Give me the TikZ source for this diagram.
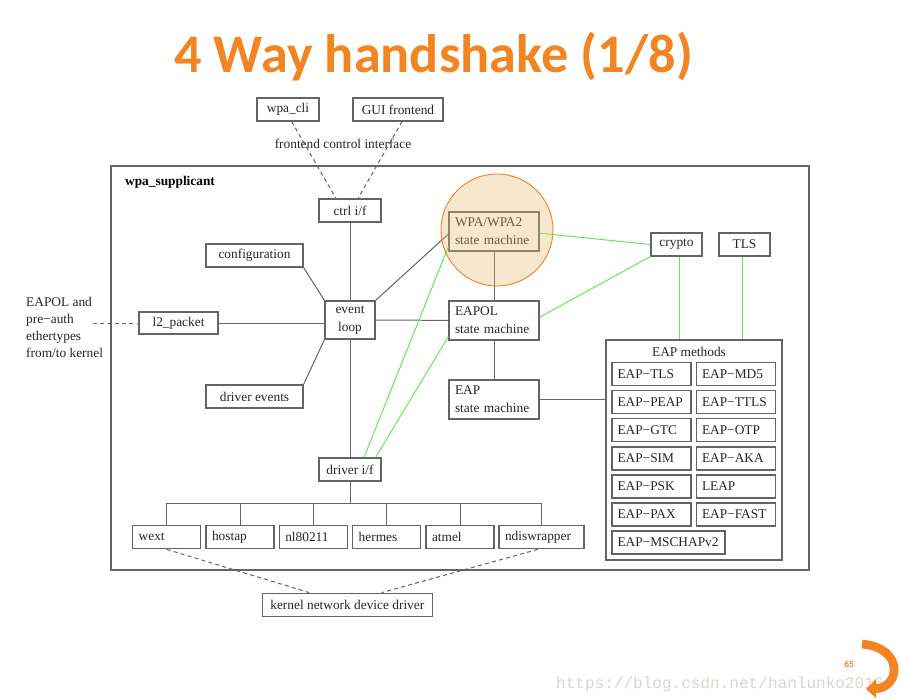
\documentclass[tikz,border=0pt]{standalone}
\usepackage{fontspec}
\setmainfont{Liberation Serif}
\newfontfamily\titlefont{Carlito}
\newfontfamily\markfont{Liberation Mono}
\usetikzlibrary{arrows.meta,calc}
\definecolor{slideorange}{RGB}{242,133,34}
\definecolor{boxgray}{RGB}{100,100,100}
\definecolor{linkgreen}{RGB}{90,235,70}
\definecolor{circfill}{RGB}{230,190,120}
\definecolor{markgray}{RGB}{218,214,208}
\tikzset{
	blk/.style={draw=boxgray, line width=1pt, inner sep=0pt, align=center, text=black!85},
	sz/.style 2 args={minimum width=#1*0.3mm, minimum height=#2*0.3mm},
	lft/.style={text width=#1*0.3mm, align=left, inner xsep=5.5*0.3mm},
	wire/.style={draw=boxgray, line width=0.85pt},
	dwire/.style={wire, dash pattern=on 3.4pt off 2.8pt},
	gwire/.style={draw=linkgreen, line width=0.8pt}
}

\begin{document}
\begin{tikzpicture}[x=0.3mm,y=-0.3mm,font=\fontsize{11.4}{15.2}\selectfont]
	\fill[white] (0,0) rectangle (901,700);
	\useasboundingbox (0,0) rectangle (901,700);

	% title
	\node[anchor=base, text=slideorange, font=\titlefont\bfseries\fontsize{46.3}{52}\selectfont] (title) at (433.5,72) {4 Way handshake (1/8)};

	% frontends
	\node[blk, sz={62}{23}] (wpacli) at (288,109.5) {wpa\_cli};
	\node[blk, sz={90}{23}] (gui) at (398,109.5) {GUI frontend};
	\node[anchor=base, text=black!85] (fci) at (343,148) {frontend control interface};

	% wpa_supplicant frame
	\draw[boxgray, line width=1pt] (111,166) rectangle (809,570);
	\node[anchor=base west, font=\fontsize{11.4}{15.2}\selectfont\bfseries] (wpasup) at (121,185) {wpa\_supplicant};

	\node[blk, sz={62}{23}] (ctrl) at (350,210.5) {ctrl i/f};
	\node[blk, sz={97}{23}] (config) at (254.5,255.5) {configuration};
	\node[blk, sz={79}{22}] (l2) at (178.5,323) {l2\_packet};
	\node[blk, sz={97}{23}] (drvev) at (254.5,396.5) {driver events};
	\node[blk, sz={50}{38}] (evloop) at (350,320) {event\\loop};
	\node[blk, sz={62}{23}] (drvif) at (350,469.5) {driver i/f};

	\node[blk, sz={90}{39}, lft=78] (wpa) at (494,231.5) {WPA/WPA2\\state machine};
	\node[blk, sz={90}{39}, lft=78] (eapol) at (494,320.5) {EAPOL\\state machine};
	\node[blk, sz={90}{39}, lft=78] (eapsm) at (494,399.5) {EAP\\state machine};
	\node[blk, sz={51}{23}] (crypto) at (676.5,244.5) {crypto};
	\node[blk, sz={51}{23}] (tls) at (744.5,244.5) {TLS};

	% left text
	\node[anchor=north west, inner sep=0pt, align=left, text=black!85, font=\fontsize{11.4}{14.6}\selectfont] (ethtxt) at (26,297) {EAPOL and\\pre−auth\\ethertypes\\from/to kernel};
	\coordinate (ethend) at (93,323);

	% EAP methods
	\node[blk, sz={176}{220}] (methods) at (694,450) {};
	\node[text=black!85] (eaphead) at (689,352) {EAP methods};
	\node[blk, sz={79}{23}, lft=68] (m1) at (651.5,374) {EAP−TLS};
	\node[blk, sz={79}{23}, lft=68] (m2) at (736,374) {EAP−MD5};
	\node[blk, sz={79}{23}, lft=68] (m3) at (651.5,402) {EAP−PEAP};
	\node[blk, sz={79}{23}, lft=68] (m4) at (736,402) {EAP−TTLS};
	\node[blk, sz={79}{23}, lft=68] (m5) at (651.5,430) {EAP−GTC};
	\node[blk, sz={79}{23}, lft=68] (m6) at (736,430) {EAP−OTP};
	\node[blk, sz={79}{23}, lft=68] (m7) at (651.5,458.5) {EAP−SIM};
	\node[blk, sz={79}{23}, lft=68] (m8) at (736,458.5) {EAP−AKA};
	\node[blk, sz={79}{23}, lft=68] (m9) at (651.5,486.5) {EAP−PSK};
	\node[blk, sz={79}{23}, lft=68] (m10) at (736,486.5) {LEAP};
	\node[blk, sz={79}{23}, lft=68] (m11) at (651.5,514.5) {EAP−PAX};
	\node[blk, sz={79}{23}, lft=68] (m12) at (736,514.5) {EAP−FAST};
	\node[blk, sz={113}{23}, lft=102] (m13) at (668.5,542.5) {EAP−MSCHAPv2};

	% drivers
	\node[blk, sz={68}{23}, lft=56] (wext) at (166.7,537.3) {wext};
	\node[blk, sz={68}{23}, lft=56] (hostap) at (240,537.3) {hostap};
	\node[blk, sz={68}{23}, lft=56] (nl) at (313.3,537.3) {nl80211};
	\node[blk, sz={68}{23}, lft=56] (hermes) at (386.7,537.3) {hermes};
	\node[blk, sz={68}{23}, lft=56] (atmel) at (460,537.3) {atmel};
	\node[blk, sz={85}{23}, lft=73] (ndis) at (541.5,537.3) {ndiswrapper};
	\coordinate (bus) at (347,503.3);
	\node[blk, sz={170}{23}] (kernel) at (347.3,604.7) {kernel network device driver};

	% connectors
	\draw[dwire] ([xshift=1.1mm]wpacli.south) -- ([xshift=-4.2mm]ctrl.north);
	\draw[dwire] ([xshift=1.2mm]gui.south) -- ([xshift=2.4mm]ctrl.north);
	\draw[wire] (ctrl) -- (evloop) -- (drvif);
	\draw[wire] (config.south east) -- (evloop.north west);
	\draw[wire] (drvev.north east) -- (evloop.south west);
	\draw[wire] (l2.east) -- (l2.east -| evloop.west);
	\draw[dwire] (ethend) -- (l2.west);
	\draw[wire] (evloop.north east) -- ([yshift=-0.75mm]wpa.west);
	\draw[wire] (evloop) -- (eapol);
	\draw[wire] (wpa) -- (eapol) -- (eapsm);
	\draw[wire] (eapsm.east) -- (eapsm.east -| methods.west);
	\draw[wire] (drvif.south) -- (drvif.south |- bus);
	\draw[wire] (wext.north |- bus) -- (ndis.north |- bus);
	\foreach \d in {wext,hostap,nl,hermes,atmel,ndis}
		\draw[wire] (\d.north) -- (\d.north |- bus);
	\draw[dwire] (wext.south) -- ([xshift=-11.4mm]kernel.north);
	\draw[dwire] ([xshift=-1.1mm]ndis.south) -- ([xshift=10.3mm]kernel.north);

	% green links
	\draw[gwire] ([yshift=-0.5mm]wpa.east) -- (crypto.west);
	\draw[gwire] ([yshift=1mm]eapol.east) -- (crypto.south west);
	\draw[gwire] ([xshift=1mm]crypto.south) -- ([xshift=1mm]crypto.south |- methods.north);
	\draw[gwire] ([xshift=-0.7mm]tls.south) -- ([xshift=-0.7mm]tls.south |- methods.north);
	\draw[gwire] ([yshift=1.5mm]wpa.south west) -- ([xshift=4.2mm]drvif.north);
	\draw[gwire] ([yshift=1.2mm]eapol.south west) -- ([xshift=-1.8mm]drvif.north east);

	% highlight
	\draw[draw=slideorange, line width=0.8pt, fill=circfill, fill opacity=0.35] (497,230) circle[radius=16.8mm];

	% page mark
	\node[anchor=base west, text=markgray, font=\markfont\fontsize{13.7}{16}\selectfont] (mark) at (552,688) {https://blog.csdn.net/hanlunko2016};
	\node[text=slideorange, font=\titlefont\bfseries\fontsize{8}{9}\selectfont] (pgnum) at (849,664) {65};
	\coordinate (arrA) at (862,644);
	\coordinate (arrB) at (866,689);
	\draw[slideorange, line width=2.6mm, -{Triangle[length=3mm,width=5.5mm]}] (arrA) .. controls (905,648) and (900,688) .. (arrB);
\end{tikzpicture}
\end{document}
